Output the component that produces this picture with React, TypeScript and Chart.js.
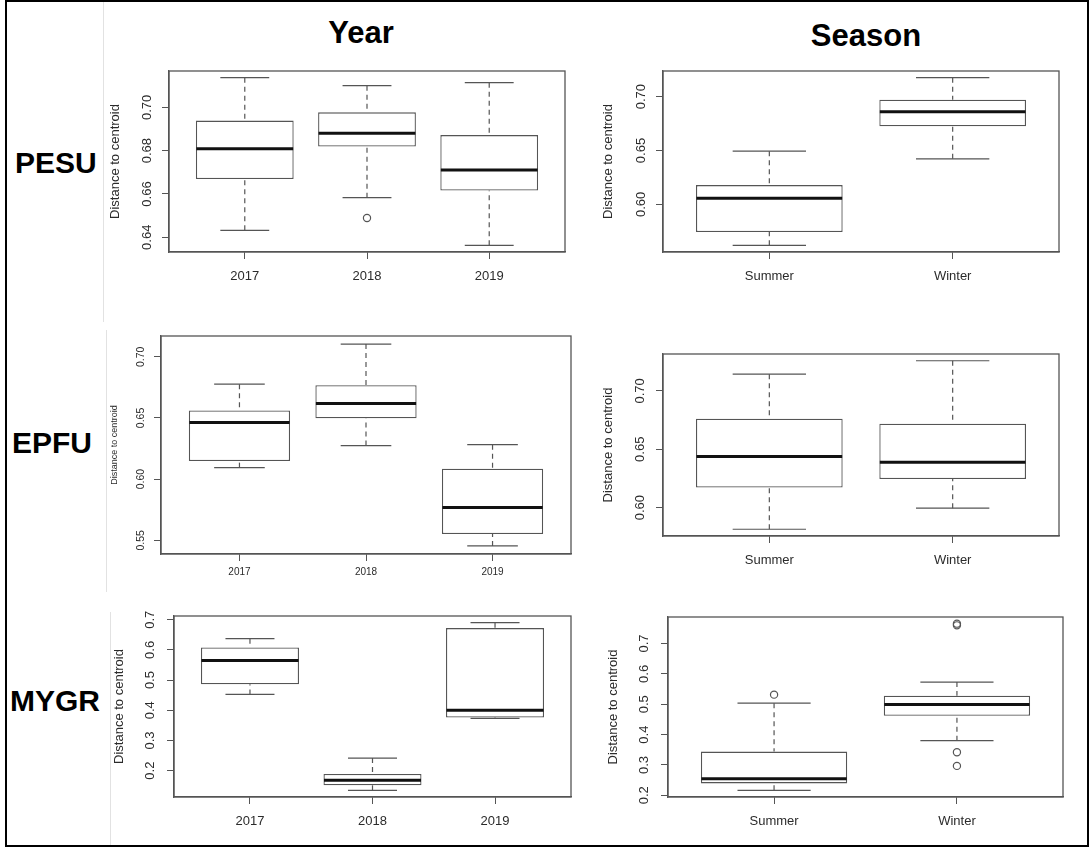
import React, { useEffect, useRef } from 'react';
import { Chart, registerables } from 'chart.js';

Chart.register(...registerables);

const FONT = '"Liberation Sans", Arial, Helvetica, sans-serif';
const INK = '#555555';
const TEXT = '#2b2b2b';

// Group names
const yearCategories = ['2017', '2018', '2019'];
const seasonCategories = ['Summer', 'Winter'];

// Each row: [lower whisker, Q1, median, Q3, upper whisker]
const pesuYearStats = [
  [0.6432, 0.6669, 0.6809, 0.6939, 0.7137],
  [0.6583, 0.6819, 0.6881, 0.6977, 0.71],
  [0.6363, 0.6616, 0.6711, 0.6872, 0.7114],
];
const pesuYearOutliers = [[], [0.6489], []];
const pesuYearTicks = [0.64, 0.66, 0.68, 0.7];

const pesuSeasonStats = [
  [0.562, 0.5744, 0.6056, 0.6179, 0.6494],
  [0.6423, 0.6725, 0.6861, 0.6972, 0.7176],
];
const pesuSeasonOutliers = [[], []];
const pesuSeasonTicks = [0.6, 0.65, 0.7];

const epfuYearStats = [
  [0.6094, 0.6148, 0.6463, 0.6561, 0.6776],
  [0.6274, 0.6497, 0.6618, 0.6768, 0.7104],
  [0.5454, 0.5552, 0.5768, 0.6085, 0.6282],
];
const epfuYearOutliers = [[], [], []];
const epfuYearTicks = [0.55, 0.6, 0.65, 0.7];

const epfuSeasonStats = [
  [0.5814, 0.6172, 0.6437, 0.6762, 0.7144],
  [0.5995, 0.6245, 0.6388, 0.6719, 0.7259],
];
const epfuSeasonOutliers = [[], []];
const epfuSeasonTicks = [0.6, 0.65, 0.7];

const mygrYearStats = [
  [0.4526, 0.4858, 0.5652, 0.6083, 0.6371],
  [0.1348, 0.1513, 0.1679, 0.1887, 0.2417],
  [0.373, 0.3758, 0.4, 0.6722, 0.6901],
];
const mygrYearOutliers = [[], [], []];
const mygrYearTicks = [0.2, 0.3, 0.4, 0.5, 0.6, 0.7];

const mygrSeasonStats = [
  [0.2164, 0.2393, 0.2547, 0.344, 0.5035],
  [0.38, 0.4619, 0.4989, 0.5284, 0.5732],
];
const mygrSeasonOutliers = [[0.5317], [0.7655, 0.76, 0.3417, 0.2969]];
const mygrSeasonTicks = [0.2, 0.3, 0.4, 0.5, 0.6, 0.7];

const Y_TITLE = 'Distance to centroid';

// Space reserved around each plot region inside its canvas
const AXIS_W = 80;
const AXIS_H = 44;
const PAD = 24;
const TICK_LEN = 7;

interface PanelSpec {
  key: string;
  categories: string[];
  stats: number[][];
  outliers: number[][];
  ticks: number[];
  decimals: number;
  plot: { left: number; top: number; right: number; bottom: number };
  yTickFont: number;
  xTickFont: number;
  titleFont: number;
  yLabelGap: number;
  yTitleGap: number;
  xLabelGap: number;
}

const panels: PanelSpec[] = [
  {
    key: 'pesu-year', categories: yearCategories, stats: pesuYearStats, outliers: pesuYearOutliers,
    ticks: pesuYearTicks, decimals: 2, plot: { left: 169, top: 71, right: 565, bottom: 252 },
    yTickFont: 13, xTickFont: 13, titleFont: 13, yLabelGap: 22, yTitleGap: 54, xLabelGap: 24,
  },
  {
    key: 'pesu-season', categories: seasonCategories, stats: pesuSeasonStats, outliers: pesuSeasonOutliers,
    ticks: pesuSeasonTicks, decimals: 2, plot: { left: 663, top: 71, right: 1059, bottom: 252 },
    yTickFont: 13, xTickFont: 13, titleFont: 13, yLabelGap: 22, yTitleGap: 54.5, xLabelGap: 24.5,
  },
  {
    key: 'epfu-year', categories: yearCategories, stats: epfuYearStats, outliers: epfuYearOutliers,
    ticks: epfuYearTicks, decimals: 2, plot: { left: 161, top: 336, right: 571, bottom: 554 },
    yTickFont: 10.5, xTickFont: 10, titleFont: 9, yLabelGap: 19.5, yTitleGap: 46, xLabelGap: 18.7,
  },
  {
    key: 'epfu-season', categories: seasonCategories, stats: epfuSeasonStats, outliers: epfuSeasonOutliers,
    ticks: epfuSeasonTicks, decimals: 2, plot: { left: 663, top: 354, right: 1059, bottom: 536 },
    yTickFont: 13, xTickFont: 13, titleFont: 13, yLabelGap: 22.7, yTitleGap: 54.4, xLabelGap: 24.3,
  },
  {
    key: 'mygr-year', categories: yearCategories, stats: mygrYearStats, outliers: mygrYearOutliers,
    ticks: mygrYearTicks, decimals: 1, plot: { left: 174, top: 616, right: 571, bottom: 797 },
    yTickFont: 13, xTickFont: 13, titleFont: 13, yLabelGap: 24, yTitleGap: 54.7, xLabelGap: 24.4,
  },
  {
    key: 'mygr-season', categories: seasonCategories, stats: mygrSeasonStats, outliers: mygrSeasonOutliers,
    ticks: mygrSeasonTicks, decimals: 1, plot: { left: 668, top: 617, right: 1063, bottom: 797 },
    yTickFont: 13, xTickFont: 13, titleFont: 13, yLabelGap: 23.3, yTitleGap: 55, xLabelGap: 24.5,
  },
];

function textWidth(text: string, size: number): number {
  const c = document.createElement('canvas').getContext('2d')!;
  c.font = `normal ${size}px ${FONT}`;
  return c.measureText(text).width;
}

// Whiskers, staples, medians and the plot frame, drawn R-style on top of the boxes
function whiskerPlugin(spec: PanelSpec) {
  return {
    id: 'whiskers',
    afterDatasetsDraw(chart: any) {
      const { ctx, chartArea: a } = chart;
      const xs = chart.scales.x;
      const ys = chart.scales.y;
      const boxes = chart.getDatasetMeta(0).data;
      const line = (x1: number, y1: number, x2: number, y2: number) => {
        ctx.beginPath();
        ctx.moveTo(x1, y1);
        ctx.lineTo(x2, y2);
        ctx.stroke();
      };
      ctx.save();
      spec.stats.forEach((s, i) => {
        const [lo, q1, med, q3, hi] = s;
        const cx = xs.getPixelForValue(i + 1);
        const half = boxes[i].width / 2;
        const py = (v: number) => ys.getPixelForValue(v);
        ctx.strokeStyle = INK;
        ctx.lineWidth = 1.2;
        ctx.setLineDash([5, 4]);
        line(cx, py(hi), cx, py(q3));
        line(cx, py(lo), cx, py(q1));
        ctx.setLineDash([]);
        line(cx - half / 2, py(hi), cx + half / 2, py(hi));
        line(cx - half / 2, py(lo), cx + half / 2, py(lo));
        ctx.strokeStyle = '#111';
        ctx.lineWidth = 3;
        line(cx - half + 0.5, py(med), cx + half - 0.5, py(med));
      });
      ctx.strokeStyle = INK;
      ctx.lineWidth = 1.3;
      ctx.strokeRect(a.left, a.top, a.right - a.left, a.bottom - a.top);
      ctx.restore();
    },
  };
}

function BoxPanel({ spec }: { spec: PanelSpec }) {
  const ref = useRef<HTMLCanvasElement>(null);
  const { plot } = spec;
  const width = plot.right - plot.left + AXIS_W + PAD;
  const height = plot.bottom - plot.top + PAD + AXIS_H;

  useEffect(() => {
    const canvas = ref.current;
    if (!canvas) return;
    const n = spec.categories.length;
    const values = spec.stats.flat().concat(spec.outliers.flat());
    const lo = Math.min(...values);
    const hi = Math.max(...values);
    const yExt = (hi - lo) * 0.04;
    const xExt = n * 0.04;
    const labels = spec.ticks.map((t) => t.toFixed(spec.decimals));
    const widest = Math.max(...labels.map((l) => textWidth(l, spec.yTickFont)));
    const yTickPad = spec.yLabelGap - TICK_LEN - widest / 2;
    const xTickPad = spec.xLabelGap - TICK_LEN - (spec.xTickFont * 1.2) / 2;
    const titlePad = AXIS_W - spec.yTitleGap - (spec.titleFont * 1.2) / 2;

    const axisGrid = {
      display: true,
      drawOnChartArea: false,
      drawTicks: true,
      tickLength: TICK_LEN,
      color: INK,
      lineWidth: 1,
      offset: false,
    };
    const axisBorder = { display: true, color: INK, width: 1.3 };

    const chart = new Chart(canvas, {
      type: 'bar',
      data: {
        datasets: [
          {
            type: 'bar',
            data: spec.stats.map((s, i) => ({ x: i + 1, y: [s[1], s[3]] })) as any,
            backgroundColor: '#ffffff',
            borderColor: INK,
            borderWidth: 1.3,
            borderSkipped: false,
            barPercentage: 0.8,
            categoryPercentage: 1,
            order: 2,
          },
          {
            type: 'scatter',
            data: spec.outliers.flatMap((vals, i) => vals.map((v) => ({ x: i + 1, y: v }))) as any,
            pointStyle: 'circle',
            pointRadius: 3.6,
            borderWidth: 1.2,
            borderColor: INK,
            backgroundColor: 'rgba(255,255,255,0)',
            order: 1,
          } as any,
        ],
      },
      options: {
        responsive: false,
        animation: false,
        events: [],
        layout: { padding: { left: 0, top: PAD, right: PAD, bottom: 0 } },
        plugins: {
          legend: { display: false },
          tooltip: { enabled: false },
        },
        scales: {
          x: {
            type: 'linear',
            min: 0.5 - xExt,
            max: n + 0.5 + xExt,
            offset: false,
            bounds: 'data',
            grid: axisGrid,
            border: axisBorder,
            ticks: {
              autoSkip: false,
              minRotation: 0,
              maxRotation: 0,
              padding: xTickPad,
              color: TEXT,
              font: { size: spec.xTickFont, family: FONT },
              callback: (v: any) => spec.categories[Math.round(Number(v)) - 1] ?? '',
            },
            afterBuildTicks: (scale: any) => {
              scale.ticks = spec.categories.map((_, i) => ({ value: i + 1 }));
            },
            afterFit: (scale: any) => {
              scale.height = AXIS_H;
            },
          },
          y: {
            type: 'linear',
            min: lo - yExt,
            max: hi + yExt,
            beginAtZero: false,
            bounds: 'data',
            grid: axisGrid,
            border: axisBorder,
            ticks: {
              minRotation: 90,
              maxRotation: 90,
              crossAlign: 'center',
              padding: yTickPad,
              color: TEXT,
              font: { size: spec.yTickFont, family: FONT },
              callback: (v: any) => Number(v).toFixed(spec.decimals),
            },
            afterBuildTicks: (scale: any) => {
              scale.ticks = spec.ticks.map((v) => ({ value: v }));
            },
            afterFit: (scale: any) => {
              scale.width = AXIS_W;
            },
            title: {
              display: true,
              text: Y_TITLE,
              color: TEXT,
              font: { size: spec.titleFont, family: FONT },
              padding: { top: titlePad, bottom: 0 },
            },
          },
        },
      } as any,
      plugins: [whiskerPlugin(spec)],
    });
    return () => chart.destroy();
  }, [spec]);

  return (
    <canvas
      ref={ref}
      width={width}
      height={height}
      style={{
        position: 'absolute',
        left: plot.left - AXIS_W,
        top: plot.top - PAD,
        width,
        height,
      }}
    />
  );
}

const headingStyle: React.CSSProperties = {
  position: 'absolute',
  fontFamily: FONT,
  fontWeight: 700,
  fontSize: 30,
  lineHeight: '30px',
  color: '#000',
  whiteSpace: 'nowrap',
};

// Thin light seams between the pasted panel images
const seams = [
  { left: 103, top: 2, height: 320 },
  { left: 106, top: 330, height: 262 },
  { left: 110, top: 612, height: 233 },
];

export default function App() {
  return (
    <div
      style={{
        position: 'absolute',
        left: 0,
        top: 0,
        width: 1089,
        height: 847,
        background: '#ffffff',
        overflow: 'hidden',
      }}
    >
      {seams.map((s, i) => (
        <div
          key={i}
          style={{ position: 'absolute', left: s.left, top: s.top, width: 1, height: s.height, background: '#e2e2e2' }}
        />
      ))}
      <div
        style={{
          position: 'absolute',
          left: 5,
          top: 0,
          width: 1084,
          height: 847,
          border: '2px solid #000',
          boxSizing: 'border-box',
        }}
      />
      <div style={{ ...headingStyle, left: 361, top: 18, transform: 'translateX(-50%)', fontSize: 31 }}>Year</div>
      <div style={{ ...headingStyle, left: 866, top: 21, transform: 'translateX(-50%)', fontSize: 31 }}>Season</div>
      <div style={{ ...headingStyle, left: 15, top: 148 }}>PESU</div>
      <div style={{ ...headingStyle, left: 12, top: 428 }}>EPFU</div>
      <div style={{ ...headingStyle, left: 10, top: 686 }}>MYGR</div>
      {panels.map((p) => (
        <BoxPanel key={p.key} spec={p} />
      ))}
    </div>
  );
}
